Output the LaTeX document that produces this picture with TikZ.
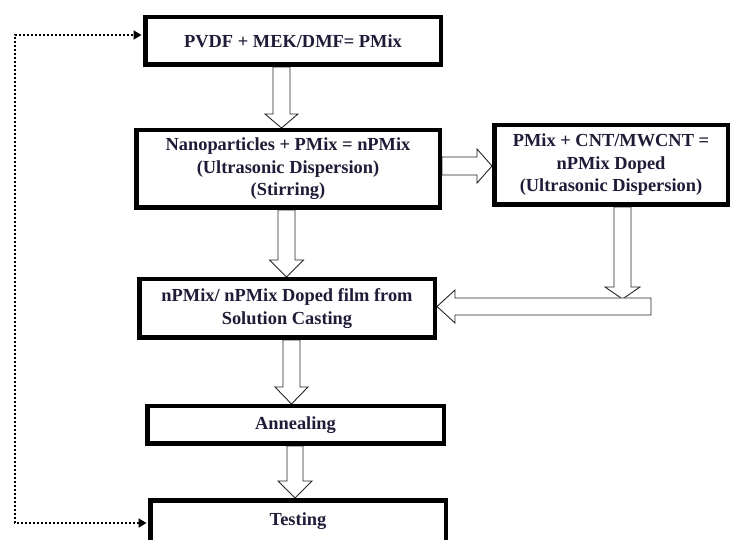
\documentclass[tikz,border=0pt]{standalone}
\usepackage{fontspec}
\setmainfont{Liberation Serif}
\usetikzlibrary{calc,arrows.meta}
\pgfdeclarelayer{bg}
\pgfdeclarelayer{paper}
\pgfsetlayers{paper,bg,main}
\definecolor{txt}{RGB}{30,28,55}
\tikzset{
  box/.style={draw=black, line width=4.5pt, fill=white, rectangle, align=center,
    text=txt, inner sep=0pt, font=\bfseries\fontsize{18.4}{22.5}\selectfont},
  blk/.style={draw=black!85, line width=0.9pt, fill=white, line join=miter},
  loopline/.style={line width=2pt, dash pattern=on 2pt off 2pt,
    {Triangle[length=8pt,width=9pt]}-{Triangle[length=8pt,width=9pt]},
    shorten <=1.5pt, shorten >=1.5pt}
}
% hollow block arrow pointing down: #1 x, #2 start, #3 end, #4 shaft half, #5 head half, #6 head length
\newcommand\blkdown[6]{%
  \draw[blk] let \p1=#2, \p2=#3 in
   ({(#1-#4)*1pt},\y1) -- ({(#1-#4)*1pt},{\y2+#6pt}) -- ({(#1-#5)*1pt},{\y2+#6pt})
   -- ({#1*1pt},\y2) -- ({(#1+#5)*1pt},{\y2+#6pt}) -- ({(#1+#4)*1pt},{\y2+#6pt})
   -- ({(#1+#4)*1pt},\y1) -- cycle;}
% hollow block arrow pointing right: #1 y, #2 start, #3 end, #4 shaft half, #5 head half, #6 head length
\newcommand\blkright[6]{%
  \draw[blk] let \p1=#2, \p2=#3 in
   (\x1,{-(#1-#4)*1pt}) -- ({\x2-#6pt},{-(#1-#4)*1pt}) -- ({\x2-#6pt},{-(#1-#5)*1pt})
   -- (\x2,{-#1*1pt}) -- ({\x2-#6pt},{-(#1+#5)*1pt}) -- ({\x2-#6pt},{-(#1+#4)*1pt})
   -- (\x1,{-(#1+#4)*1pt}) -- cycle;}
% hollow block arrow pointing left
\newcommand\blkleft[6]{%
  \draw[blk] let \p1=#2, \p2=#3 in
   (\x1,{-(#1-#4)*1pt}) -- ({\x2+#6pt},{-(#1-#4)*1pt}) -- ({\x2+#6pt},{-(#1-#5)*1pt})
   -- (\x2,{-#1*1pt}) -- ({\x2+#6pt},{-(#1+#5)*1pt}) -- ({\x2+#6pt},{-(#1+#4)*1pt})
   -- (\x1,{-(#1+#4)*1pt}) -- cycle;}
\begin{document}
\begin{tikzpicture}[x=1pt,y=-1pt]
\begin{pgfonlayer}{paper}
\fill[white] (0,0) rectangle (732,540);
\end{pgfonlayer}
\useasboundingbox (0,0) rectangle (732,540);

\node[box, minimum width=295.5pt, minimum height=47.5pt] (b1) at (293,41) {PVDF + MEK/DMF= PMix};
\node[box, minimum width=303.5pt, minimum height=77.5pt] (b2) at (288,169)
  {Nanoparticles + PMix = nPMix\\(Ultrasonic Dispersion)\\(Stirring)};
\node[box, minimum width=233.5pt, minimum height=79.5pt] (b3) at (611,165)
  {PMix + CNT/MWCNT =\\nPMix Doped\\(Ultrasonic Dispersion)};
\node[box, minimum width=295.5pt, minimum height=58.5pt] (b4) at (287,308.5)
  {nPMix/ nPMix Doped film from\\Solution Casting};
\node[box, minimum width=296.5pt, minimum height=37.5pt] (b5) at (295.5,425) {Annealing};
\node[box, minimum width=295.5pt, minimum height=41.5pt] (b6) at (298,521) {Testing};

\coordinate (bartop) at (622.5,299);
\coordinate (barend) at (651,306.5);
\coordinate (c1) at (15,523);
\coordinate (c2) at (15,35);

\begin{pgfonlayer}{bg}
\blkdown{281.5}{(b1.south)}{(b2.north)}{8.5}{16.5}{14}
\blkright{166}{(b2.east)}{(b3.west)}{9}{17}{15}
\blkdown{286.5}{(b2.south)}{(b4.north)}{8.5}{17}{17}
\blkdown{622.5}{(b3.south)}{(bartop)}{8.5}{17.5}{12}
\blkleft{306.5}{(barend)}{(b4.east)}{8.5}{16.5}{18}
\blkdown{291.5}{(b4.south)}{(b5.north)}{8.5}{16.5}{17}
\blkdown{295}{(b5.south)}{(b6.north)}{8}{17}{17}
\end{pgfonlayer}

\draw[loopline] (c1 -| b6.west) -- (c1) -- (c2) -- (c2 -| b1.west);
\end{tikzpicture}
\end{document}
